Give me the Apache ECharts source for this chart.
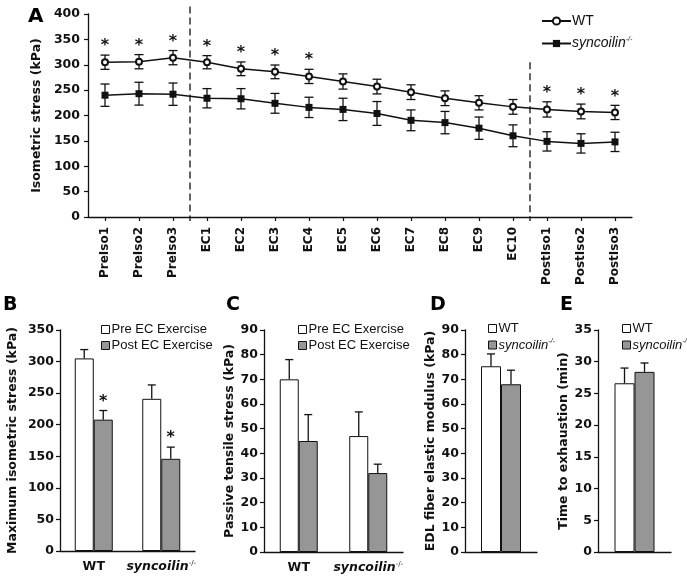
<!DOCTYPE html>
<html><head><meta charset="utf-8">
<script src="https://cdn.jsdelivr.net/npm/echarts@6/dist/echarts.min.js"></script>
<style>html,body{margin:0;padding:0;background:#fff}#c{width:687px;height:581px}</style>
</head><body><div id="c"></div>
<script>
// ---- Panel A: isometric stress over the protocol ----
const timepoints = ['PreIso1','PreIso2','PreIso3','EC1','EC2','EC3','EC4','EC5','EC6','EC7','EC8','EC9','EC10','PostIso1','PostIso2','PostIso3'];
const wtStress    = [305,306,314,305,292,286,277,267,257,246,234,225,217,212,208,206];
const wtStressErr = [14,14,14,13,13.5,13.5,14,15,14.5,14.5,14.5,14,14.5,15,14.5,14];
const koStress    = [240,243,242,234,233,224,216,212,204,190.5,186,175,160,149,145,148];
const koStressErr = [22,22.5,22,19,20,19.5,20,22,23.5,20.5,22,22,21.5,19,19,19];
const stressSig   = [1,1,1,1,1,1,1,0,0,0,0,0,0,1,1,1];
const phaseDividers = [{after: 2, top: 415}, {after: 12, top: 305}];
const stressTicks = {min: 0, max: 400, interval: 50};

// ---- Panels B/C: Pre vs Post EC exercise ----
const groups = ['WT', 'syncoilin'];
const maxIsoPre     = [305, 241];
const maxIsoPreErr  = [14, 22];
const maxIsoPost    = [208, 146];
const maxIsoPostErr = [14.5, 18.5];
const maxIsoPostSig = [1, 1];
const passivePre     = [70, 47];
const passivePreErr  = [8, 9.8];
const passivePost    = [45, 32];
const passivePostErr = [10.7, 3.6];

// ---- Panels D/E: WT vs syncoilin-/- ----
const modulus    = {WT: 75.3, KO: 68.0};
const modulusErr = {WT: 5.0,  KO: 5.7};
const exhaustion    = {WT: 26.6, KO: 28.4};
const exhaustionErr = {WT: 2.4,  KO: 1.4};

const F = 'DejaVu Sans';
const L = 'Liberation Sans';
const INK = '#111';
const GREY = '#969696';

const chart = echarts.init(document.getElementById('c'));

function errBar(both, offset, cap) {
  return function (params, api) {
    const i = api.value(0), m = api.value(1), e = api.value(2);
    const t = api.coord([i, m + e]);
    const b = api.coord([i, both ? m - e : m]);
    const x = t[0] + offset;
    const st = {stroke: INK, lineWidth: 1.3};
    return {type: 'group', children: [
      {type: 'line', shape: {x1: x, y1: t[1], x2: x, y2: b[1]}, style: st},
      {type: 'line', shape: {x1: x - cap / 2, y1: t[1], x2: x + cap / 2, y2: t[1]}, style: st},
      both ? {type: 'line', shape: {x1: x - cap / 2, y1: b[1], x2: x + cap / 2, y2: b[1]}, style: st} : {type: 'group', children: []}
    ]};
  };
}
function star(offset) {
  return function (params, api) {
    const p = api.coord([api.value(0), api.value(1)]);
    return {type: 'text', x: p[0] + offset, y: p[1] - 17,
      style: {text: '*', fontFamily: F, fontWeight: 'bold', fontSize: 16, fill: INK, align: 'center', verticalAlign: 'top'}};
  };
}
function divider(params, api) {
  const a = api.value(0);
  const p1 = api.coord([a, 0]), p2 = api.coord([a + 1, 0]);
  const x = (p1[0] + p2[0]) / 2;
  const yt = api.coord([a, api.value(1)])[1];
  return {type: 'line', shape: {x1: x, y1: yt, x2: x, y2: p1[1] + 4},
    style: {stroke: INK, lineWidth: 1.3, lineDash: [7, 4]}};
}

const axisLineStyle = {show: true, lineStyle: {color: INK, width: 1.3}};
const yLabel = {color: INK, fontFamily: F, fontWeight: 'bold', fontSize: 12.5};
const nameStyle = {color: INK, fontFamily: F, fontWeight: 'bold', fontSize: 12.5};
function yAx(gi, t, name, gap, margin) {
  return {type: 'value', gridIndex: gi, min: t.min, max: t.max, interval: t.interval,
    axisLine: axisLineStyle, axisTick: {show: true, length: 4, lineStyle: {color: INK, width: 1.2}},
    splitLine: {show: false}, axisLabel: Object.assign({margin: margin}, yLabel),
    name: name, nameLocation: 'middle', nameRotate: 90, nameGap: gap, nameTextStyle: nameStyle};
}
const grpRich = {
  b: {fontFamily: F, fontWeight: 'bold', fontSize: 12.5, color: INK},
  bi: {fontFamily: F, fontWeight: 'bold', fontStyle: 'italic', fontSize: 12.5, color: INK},
  sup: {fontFamily: F, fontSize: 7, color: INK, verticalAlign: 'top', padding: [0, 0, 6, 0]}
};
const legRich = {
  n: {fontFamily: L, fontSize: 13, color: INK},
  i: {fontFamily: L, fontStyle: 'italic', fontSize: 13, color: INK},
  s: {fontFamily: L, fontStyle: 'italic', fontSize: 7, color: INK, padding: [0, 0, 7, 0]}
};
const nameMap = {
  WT: '{n|WT}', KO: '{i|syncoilin}{s|-/-}', WT_D: '{n|WT}', KO_D: '{i|syncoilin}{s|-/-}',
  WT_E: '{n|WT}', KO_E: '{i|syncoilin}{s|-/-}',
  Pre_B: '{n|Pre EC Exercise}', Post_B: '{n|Post EC Exercise}',
  Pre_C: '{n|Pre EC Exercise}', Post_C: '{n|Post EC Exercise}'
};
function barLegend(names, left, top) {
  return {data: names.map(n => ({name: n, icon: 'rect'})), orient: 'vertical', left: left, top: top,
    itemWidth: 8, itemHeight: 8, itemGap: 3, formatter: n => nameMap[n],
    itemStyle: {borderColor: INK, borderWidth: 1},
    textStyle: {rich: legRich, lineHeight: 13, padding: [0, 0, 0, -3]}, selectedMode: false};
}
const pairs = (vals, errs) => vals.map((v, i) => [i, v, errs[i]]);
const sigPairs = (vals, errs, sig) => vals.map((v, i) => [i, v + errs[i]]).filter((d, i) => sig[i]);

const option = {
  backgroundColor: '#fff',
  animation: false,
  grid: [
    {left: 88, top: 14, width: 544, height: 203},
    {left: 60, top: 330, width: 135, height: 221},
    {left: 264, top: 330, width: 139, height: 222},
    {left: 465, top: 330, width: 72, height: 222},
    {left: 598, top: 330, width: 73, height: 222}
  ],
  xAxis: [
    {type: 'category', gridIndex: 0, data: timepoints, boundaryGap: true, axisLine: axisLineStyle,
      axisTick: {show: true, alignWithLabel: true, length: 4, lineStyle: {color: INK, width: 1.2}},
      axisLabel: {rotate: 90, interval: 0, margin: 10, color: INK, fontFamily: F, fontWeight: 'bold', fontSize: 12}},
    {type: 'category', gridIndex: 1, data: groups, axisLine: axisLineStyle, axisTick: {show: false},
      axisLabel: {margin: 9, interval: 0, formatter: v => v === 'WT' ? '{b|WT}' : '{bi|syncoilin}{sup|-/-}', rich: grpRich}},
    {type: 'category', gridIndex: 2, data: groups, axisLine: axisLineStyle, axisTick: {show: false},
      axisLabel: {margin: 9, interval: 0, formatter: v => v === 'WT' ? '{b|WT}' : '{bi|syncoilin}{sup|-/-}', rich: grpRich}},
    {type: 'category', gridIndex: 3, data: [''], axisLine: axisLineStyle, axisTick: {show: false}, axisLabel: {show: false}},
    {type: 'category', gridIndex: 4, data: [''], axisLine: axisLineStyle, axisTick: {show: false}, axisLabel: {show: false}}
  ],
  yAxis: [
    yAx(0, stressTicks, 'Isometric stress (kPa)', 45, 8),
    yAx(1, {min: 0, max: 350, interval: 50}, 'Maximum isometric stress (kPa)', 41, 6),
    yAx(2, {min: 0, max: 90, interval: 10}, 'Passive tensile stress (kPa)', 23, 6),
    yAx(3, {min: 0, max: 90, interval: 10}, 'EDL fiber elastic modulus (kPa)', 22, 6),
    yAx(4, {min: 0, max: 35, interval: 5}, 'Time to exhaustion (min)', 25, 6)
  ],
  legend: [
    {data: ['WT', 'KO'], orient: 'vertical', left: 536, top: 9, itemWidth: 29, itemHeight: 9, itemGap: 8,
      formatter: n => nameMap[n], selectedMode: false,
      textStyle: {rich: {n: {fontFamily: L, fontSize: 14, color: INK}, i: {fontFamily: L, fontStyle: 'italic', fontSize: 14, color: INK}, s: {fontFamily: L, fontStyle: 'italic', fontSize: 7, color: INK, padding: [0, 0, 8, 0]}}, padding: [0, 0, 0, -4]}},
    barLegend(['Pre_B', 'Post_B'], 96, 318),
    barLegend(['Pre_C', 'Post_C'], 293, 318),
    barLegend(['WT_D', 'KO_D'], 483, 317),
    barLegend(['WT_E', 'KO_E'], 617, 317)
  ],
  graphic: [
    {type: 'text', x: 28, y: 7, style: {text: 'A', fontFamily: F, fontWeight: 'bold', fontSize: 20, fill: '#000'}},
    {type: 'text', x: 3, y: 296, style: {text: 'B', fontFamily: F, fontWeight: 'bold', fontSize: 19, fill: '#000'}},
    {type: 'text', x: 226, y: 296, style: {text: 'C', fontFamily: F, fontWeight: 'bold', fontSize: 19, fill: '#000'}},
    {type: 'text', x: 430, y: 296, style: {text: 'D', fontFamily: F, fontWeight: 'bold', fontSize: 19, fill: '#000'}},
    {type: 'text', x: 560, y: 296, style: {text: 'E', fontFamily: F, fontWeight: 'bold', fontSize: 19, fill: '#000'}}
  ],
  series: [
    // Panel A
    {type: 'custom', xAxisIndex: 0, yAxisIndex: 0, renderItem: divider, clip: false, silent: true,
      data: phaseDividers.map(d => [d.after, d.top]), z: 1},
    {type: 'custom', xAxisIndex: 0, yAxisIndex: 0, renderItem: errBar(true, 0, 9), silent: true,
      data: pairs(wtStress, wtStressErr), z: 2},
    {type: 'custom', xAxisIndex: 0, yAxisIndex: 0, renderItem: errBar(true, 0, 9), silent: true,
      data: pairs(koStress, koStressErr), z: 2},
    {name: 'WT', type: 'line', xAxisIndex: 0, yAxisIndex: 0, data: wtStress, symbol: 'emptyCircle', symbolSize: 6,
      lineStyle: {color: INK, width: 1.5}, itemStyle: {color: INK, borderColor: INK, borderWidth: 1.3}, z: 4},
    {name: 'KO', type: 'line', xAxisIndex: 0, yAxisIndex: 0, data: koStress, symbol: 'rect', symbolSize: 7,
      lineStyle: {color: INK, width: 1.5}, itemStyle: {color: INK}, z: 4},
    {type: 'custom', xAxisIndex: 0, yAxisIndex: 0, renderItem: star(0), silent: true, clip: false,
      data: sigPairs(wtStress, wtStressErr, stressSig), z: 5},
    // Panel B
    {name: 'Pre_B', type: 'bar', xAxisIndex: 1, yAxisIndex: 1, data: maxIsoPre, barWidth: 19, barGap: '0%',
      itemStyle: {color: '#fff', borderColor: INK, borderWidth: 1}},
    {name: 'Post_B', type: 'bar', xAxisIndex: 1, yAxisIndex: 1, data: maxIsoPost, barWidth: 19, barGap: '0%',
      itemStyle: {color: GREY, borderColor: INK, borderWidth: 1}},
    {type: 'custom', xAxisIndex: 1, yAxisIndex: 1, renderItem: errBar(false, -9.5, 8), data: pairs(maxIsoPre, maxIsoPreErr), z: 3},
    {type: 'custom', xAxisIndex: 1, yAxisIndex: 1, renderItem: errBar(false, 9.5, 8), data: pairs(maxIsoPost, maxIsoPostErr), z: 3},
    {type: 'custom', xAxisIndex: 1, yAxisIndex: 1, renderItem: star(9.5), clip: false,
      data: sigPairs(maxIsoPost, maxIsoPostErr, maxIsoPostSig), z: 3},
    // Panel C
    {name: 'Pre_C', type: 'bar', xAxisIndex: 2, yAxisIndex: 2, data: passivePre, barWidth: 19, barGap: '0%',
      itemStyle: {color: '#fff', borderColor: INK, borderWidth: 1}},
    {name: 'Post_C', type: 'bar', xAxisIndex: 2, yAxisIndex: 2, data: passivePost, barWidth: 19, barGap: '0%',
      itemStyle: {color: GREY, borderColor: INK, borderWidth: 1}},
    {type: 'custom', xAxisIndex: 2, yAxisIndex: 2, renderItem: errBar(false, -9.5, 8), data: pairs(passivePre, passivePreErr), z: 3},
    {type: 'custom', xAxisIndex: 2, yAxisIndex: 2, renderItem: errBar(false, 9.5, 8), data: pairs(passivePost, passivePostErr), z: 3},
    // Panel D
    {name: 'WT_D', type: 'bar', xAxisIndex: 3, yAxisIndex: 3, data: [modulus.WT], barWidth: 20, barGap: '0%',
      itemStyle: {color: '#fff', borderColor: INK, borderWidth: 1}},
    {name: 'KO_D', type: 'bar', xAxisIndex: 3, yAxisIndex: 3, data: [modulus.KO], barWidth: 20, barGap: '0%',
      itemStyle: {color: GREY, borderColor: INK, borderWidth: 1}},
    {type: 'custom', xAxisIndex: 3, yAxisIndex: 3, renderItem: errBar(false, -10, 8), data: [[0, modulus.WT, modulusErr.WT]], z: 3},
    {type: 'custom', xAxisIndex: 3, yAxisIndex: 3, renderItem: errBar(false, 10, 8), data: [[0, modulus.KO, modulusErr.KO]], z: 3},
    // Panel E
    {name: 'WT_E', type: 'bar', xAxisIndex: 4, yAxisIndex: 4, data: [exhaustion.WT], barWidth: 20, barGap: '0%',
      itemStyle: {color: '#fff', borderColor: INK, borderWidth: 1}},
    {name: 'KO_E', type: 'bar', xAxisIndex: 4, yAxisIndex: 4, data: [exhaustion.KO], barWidth: 20, barGap: '0%',
      itemStyle: {color: GREY, borderColor: INK, borderWidth: 1}},
    {type: 'custom', xAxisIndex: 4, yAxisIndex: 4, renderItem: errBar(false, -10, 8), data: [[0, exhaustion.WT, exhaustionErr.WT]], z: 3},
    {type: 'custom', xAxisIndex: 4, yAxisIndex: 4, renderItem: errBar(false, 10, 8), data: [[0, exhaustion.KO, exhaustionErr.KO]], z: 3}
  ]
};
chart.setOption(option);
</script>
</body></html>
